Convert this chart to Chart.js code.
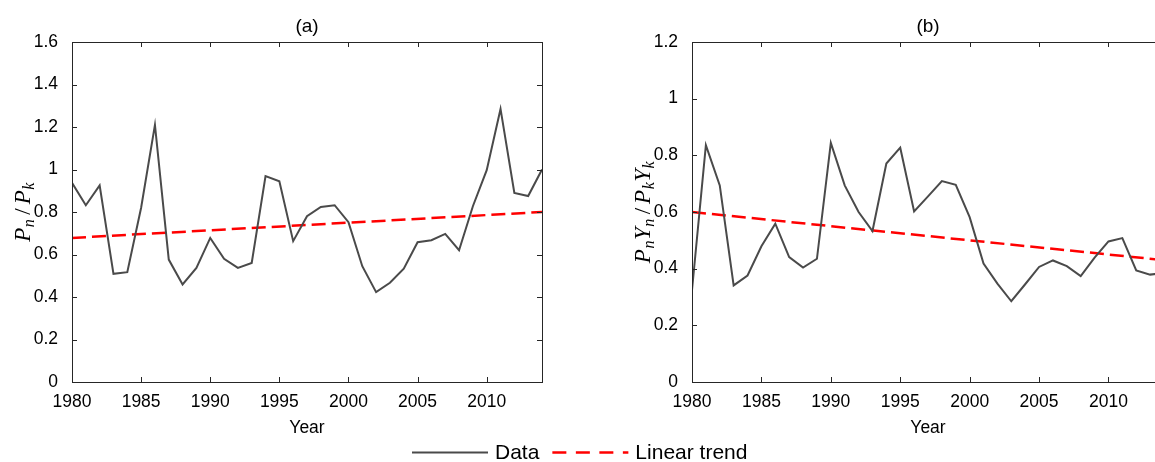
<!DOCTYPE html>
<html>
<head>
<meta charset="utf-8">
<script src="https://cdn.jsdelivr.net/npm/chart.js@4.4.1/dist/chart.umd.min.js"></script>
<style>
  html, body { margin: 0; padding: 0; background: #fff; overflow: hidden; }
  #wrap { position: relative; width: 1155px; height: 462px; overflow: hidden; }
  canvas { position: absolute; top: 0; }
  #chartA { left: 0; }
  #chartB { left: 580px; }
</style>
</head>
<body>
<div id="wrap">
  <canvas id="chartA" width="1155" height="462"></canvas>
  <canvas id="chartB" width="584" height="462"></canvas>
</div>
<script>
// Data
var years = [1980, 1981, 1982, 1983, 1984, 1985, 1986, 1987, 1988, 1989,
             1990, 1991, 1992, 1993, 1994, 1995, 1996, 1997, 1998, 1999,
             2000, 2001, 2002, 2003, 2004, 2005, 2006, 2007, 2008, 2009,
             2010, 2011, 2012, 2013, 2014];
var ratioA = [0.937, 0.832, 0.925, 0.509, 0.517, 0.820, 1.210, 0.576, 0.459, 0.537,
              0.678, 0.580, 0.537, 0.560, 0.969, 0.945, 0.663, 0.780, 0.824, 0.832,
              0.752, 0.545, 0.423, 0.467, 0.533, 0.658, 0.667, 0.697, 0.620, 0.827,
              0.997, 1.285, 0.890, 0.875, 1.000];
var ratioB = [0.324, 0.836, 0.694, 0.341, 0.376, 0.479, 0.559, 0.441, 0.404, 0.435,
              0.844, 0.694, 0.600, 0.533, 0.771, 0.827, 0.602, 0.655, 0.709, 0.696,
              0.582, 0.418, 0.347, 0.285, 0.345, 0.406, 0.429, 0.409, 0.374, 0.439,
              0.496, 0.508, 0.394, 0.379, 0.385];
var trendYears = [1980, 2014];
var trendA = [0.678, 0.800];
var trendB = [0.600, 0.430];

var xTicks = [1980, 1985, 1990, 1995, 2000, 2005, 2010];
var yTicksA = [0, 0.2, 0.4, 0.6, 0.8, 1, 1.2, 1.4, 1.6];
var yTickLabelsA = ['0', '0.2', '0.4', '0.6', '0.8', '1', '1.2', '1.4', '1.6'];
var yTicksB = [0, 0.2, 0.4, 0.6, 0.8, 1, 1.2];
var yTickLabelsB = ['0', '0.2', '0.4', '0.6', '0.8', '1', '1.2'];

var seriesLabels = ['Data', 'Linear trend'];
var xTitle = 'Year';
var titleA = '(a)', titleB = '(b)';
// 1 = italic, 2 = italic subscript, 0 = upright
var yTitleA = [['P', 1], ['n', 2], ['/', 0], ['P', 1], ['k', 2]];
var yTitleB = [['P', 1], ['n', 2], ['Y', 1], ['n', 2], ['/', 0], ['P', 1], ['k', 2], ['Y', 1], ['k', 2]];

var FONT = "'Liberation Sans', Arial, sans-serif";
var INK = '#262626';
var DATA_COLOR = '#4a4a4a';
var TREND_COLOR = '#ff0000';

function points(xs, ys) {
    return xs.map(function (x, i) { return {x: x, y: ys[i]}; });
}

// Box round the axes with ticks pointing inward
var framePlugin = {
    id: 'frame',
    afterDatasetsDraw: function (chart) {
        var ctx = chart.ctx, a = chart.chartArea, sx = chart.scales.x, sy = chart.scales.y;
        ctx.save();
        ctx.strokeStyle = INK;
        ctx.lineWidth = 1;
        ctx.strokeRect(Math.round(a.left) + 0.5, Math.round(a.top) + 0.5,
                       Math.round(a.right - a.left), Math.round(a.bottom - a.top));
        ctx.beginPath();
        sx.ticks.forEach(function (t) {
            var px = Math.round(sx.getPixelForValue(t.value)) + 0.5;
            ctx.moveTo(px, a.bottom); ctx.lineTo(px, a.bottom - 5);
            ctx.moveTo(px, a.top); ctx.lineTo(px, a.top + 5);
        });
        sy.ticks.forEach(function (t) {
            var py = Math.round(sy.getPixelForValue(t.value)) + 0.5;
            ctx.moveTo(a.left, py); ctx.lineTo(a.left + 5, py);
            ctx.moveTo(a.right, py); ctx.lineTo(a.right - 5, py);
        });
        ctx.stroke();
        ctx.restore();
    }
};

// Rotated math-style y axis title with subscripts
var yTitlePlugin = {
    id: 'yTitle',
    afterDraw: function (chart, args, opts) {
        var parts = opts.parts;
        if (!parts) return;
        var ctx = chart.ctx, a = chart.chartArea;
        var big = 23, small = 16;
        function fontFor(kind) {
            if (kind === 2) return 'italic ' + small + "px 'Liberation Serif', serif";
            if (kind === 1) return 'italic ' + big + "px 'Liberation Serif', serif";
            return big + "px 'Liberation Serif', serif";
        }
        function gap(kind) { return kind === 0 ? 4 : 0.5; }
        ctx.save();
        var total = 0;
        parts.forEach(function (p) {
            ctx.font = fontFor(p[1]);
            total += ctx.measureText(p[0]).width + (p[1] === 0 ? 2 * gap(0) : gap(1));
        });
        ctx.translate(a.left - opts.offset, (a.top + a.bottom) / 2);
        ctx.rotate(-Math.PI / 2);
        ctx.fillStyle = '#000';
        ctx.textBaseline = 'alphabetic';
        var x = -total / 2;
        parts.forEach(function (p) {
            ctx.font = fontFor(p[1]);
            if (p[1] === 0) x += gap(0);
            ctx.fillText(p[0], x, p[1] === 2 ? 12 : 8);
            x += ctx.measureText(p[0]).width + (p[1] === 0 ? gap(0) : gap(1));
        });
        ctx.restore();
    }
};

// Legend under both panels
var legendPlugin = {
    id: 'bottomLegend',
    afterDraw: function (chart, args, opts) {
        if (!opts.show) return;
        var ctx = chart.ctx;
        var y = 452.5;
        var x = 412;
        ctx.save();
        ctx.font = '21px ' + FONT;
        ctx.textBaseline = 'middle';
        ctx.fillStyle = '#000';
        chart.data.datasets.forEach(function (ds) {
            ctx.strokeStyle = ds.borderColor;
            ctx.lineWidth = ds.borderWidth;
            ctx.setLineDash(ds.borderDash ? [14, 9.5] : []);
            ctx.beginPath();
            ctx.moveTo(x, y); ctx.lineTo(x + 76, y);
            ctx.stroke();
            ctx.setLineDash([]);
            ctx.fillText(ds.label, x + 83, y + 1);
            x += 83 + ctx.measureText(ds.label).width + 13;
        });
        ctx.restore();
    }
};

function makeChart(id, values, trend, yTicks, yLabels, yMax, title, yTitle, opt) {
    var ctx = document.getElementById(id).getContext('2d');
    return new Chart(ctx, {
        type: 'line',
        data: {
            datasets: [{
                label: seriesLabels[0],
                data: points(years, values),
                borderColor: DATA_COLOR,
                borderWidth: 2,
                pointRadius: 0,
                tension: 0
            }, {
                label: seriesLabels[1],
                data: points(trendYears, trend),
                borderColor: TREND_COLOR,
                borderWidth: 2.5,
                borderDash: [14, 6],
                pointRadius: 0,
                tension: 0
            }]
        },
        options: {
            responsive: false,
            animation: false,
            devicePixelRatio: 1,
            layout: { padding: { top: 0, left: 0, bottom: 0, right: opt.padRight } },
            plugins: {
                legend: { display: false },
                tooltip: { enabled: false },
                title: {
                    display: true,
                    text: title,
                    fullSize: false,
                    color: '#000',
                    font: { family: FONT, size: 19, weight: 'normal' },
                    padding: { top: 15.5, bottom: 3.7 }
                },
                yTitle: { parts: yTitle, offset: 50 },
                bottomLegend: { show: opt.legend }
            },
            scales: {
                x: {
                    type: 'linear',
                    min: 1980,
                    max: 2014,
                    grid: { display: false },
                    border: { display: false },
                    afterBuildTicks: function (s) {
                        s.ticks = xTicks.map(function (v) { return {value: v}; });
                    },
                    afterFit: function (s) { s.height = 80; },
                    ticks: {
                        color: '#000',
                        font: { family: FONT, size: 17.5 },
                        padding: 1.5,
                        maxRotation: 0,
                        autoSkip: false,
                        callback: function (v) { return String(v); }
                    },
                    title: {
                        display: true,
                        text: xTitle,
                        color: '#000',
                        font: { family: FONT, size: 17.5 },
                        padding: { top: 0, bottom: 23.5 }
                    }
                },
                y: {
                    min: 0,
                    max: yMax,
                    grid: { display: false },
                    border: { display: false },
                    afterBuildTicks: function (s) {
                        s.ticks = yTicks.map(function (v) { return {value: v}; });
                    },
                    afterFit: function (s) { s.width = opt.yWidth; },
                    ticks: {
                        color: '#000',
                        font: { family: FONT, size: 17.5 },
                        padding: 6,
                        autoSkip: false,
                        callback: function (v, i) { return yLabels[i]; }
                    }
                }
            }
        },
        plugins: [framePlugin, yTitlePlugin, legendPlugin]
    });
}

var chartA = makeChart('chartA', ratioA, trendA, yTicksA, yTickLabelsA, 1.6, titleA, yTitleA,
                       {padRight: 613, yWidth: 72, legend: true});
var chartB = makeChart('chartB', ratioB, trendB, yTicksB, yTickLabelsB, 1.2, titleB, yTitleB,
                       {padRight: 0, yWidth: 112, legend: false});
</script>
</body>
</html>
